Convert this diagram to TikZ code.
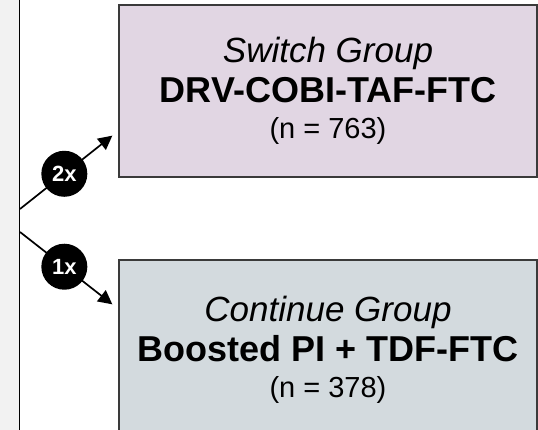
\documentclass[tikz,border=0pt]{standalone}
\usepackage{fontspec}
\setmainfont{Liberation Sans}
\usepackage{xcolor}
\usetikzlibrary{arrows.meta,positioning,calc}
\definecolor{switchfill}{HTML}{E1D6E3}
\definecolor{contfill}{HTML}{D3DADE}
\definecolor{panelfill}{HTML}{F2F2F2}
\definecolor{boxline}{HTML}{3A3A3A}

\begin{document}
\begin{tikzpicture}[x=1pt, y=1pt, >={Triangle[length=14pt,width=14pt]}]
\tikzstyle{grp}=[draw=boxline, line width=1.3pt, minimum width=418pt, align=center, inner sep=0pt, font=\fontsize{36}{40}\selectfont]
\tikzstyle{badge}=[circle, fill=black, text=white, minimum size=46pt, inner sep=0pt, font=\bfseries\fontsize{22}{22}\selectfont]
\tikzstyle{arr}=[->, line width=1.7pt]
\useasboundingbox (0,0) rectangle (538,430);

% left panel with the fork line
\node[draw=black, line width=1.5pt, fill=panelfill, minimum width=22pt, minimum height=440pt, inner sep=0pt, anchor=north east] (panel) at (20,435) {};

% the two groups
\node[grp, fill=switchfill, minimum height=172pt] (switch) at (328,339) {{\fontsize{35}{40}\selectfont\itshape Switch Group}\\\textbf{DRV-COBI-TAF-FTC}\\[-4pt]{\fontsize{29}{30}\selectfont (n = 763)}};
\node[grp, fill=contfill, minimum height=180pt] (cont) at (328,80) {{\fontsize{35}{40}\selectfont\itshape Continue Group}\\\textbf{Boosted PI + TDF-FTC}\\[-4pt]{\fontsize{29}{30}\selectfont (n = 378)}};

\coordinate (upstart) at (panel.east |- 0,221);
\coordinate (downstart) at (panel.east |- 0,198);

\draw[arr] (upstart) -- node[badge, pos=0.48] (twice) {2x} ([shift={(-6,42)}]switch.south west);
\draw[arr] (downstart) -- node[badge, pos=0.48] (once) {1x} ([shift={(-6,-45)}]cont.north west);
\end{tikzpicture}
\end{document}
